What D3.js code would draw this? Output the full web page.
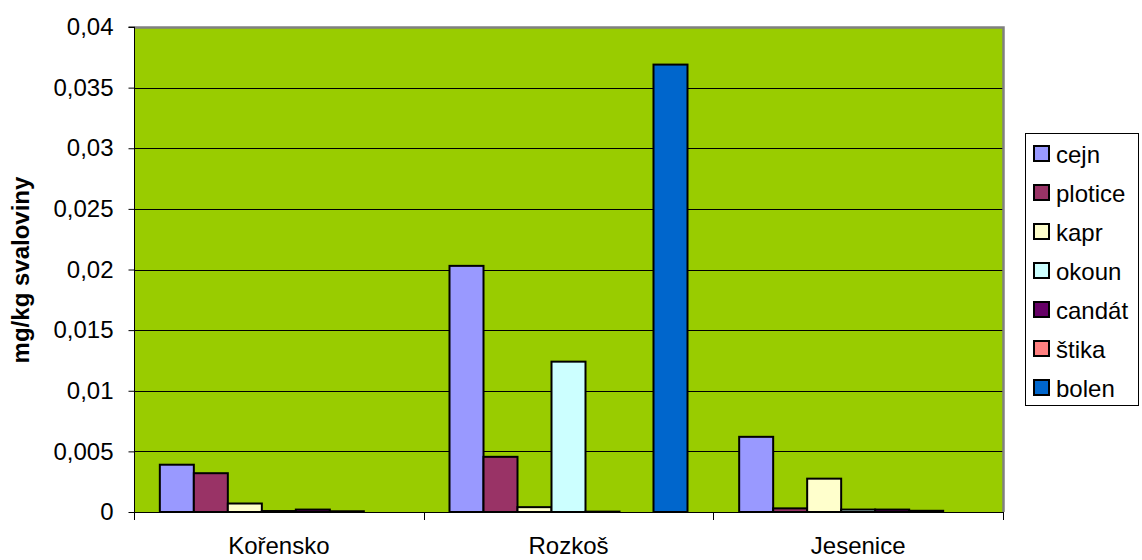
<!DOCTYPE html>
<html>
<head>
<meta charset="utf-8">
<script src="https://cdn.jsdelivr.net/npm/d3@7"></script>
<style>
  html, body { margin: 0; padding: 0; background: #fff; }
  svg { display: block; font-family: "Liberation Sans", Arial, sans-serif; }
</style>
</head>
<body>
<svg id="chart" width="1142" height="560"></svg>
<script>
// Localities (x categories)
const categories = ["Kořensko", "Rozkoš", "Jesenice"];

// Fish species (series)
const seriesNames = ["cejn", "plotice", "kapr", "okoun", "candát", "štika", "bolen"];
const seriesColors = ["#9999FF", "#993366", "#FFFFCC", "#CCFFFF", "#660066", "#FF8080", "#0066CC"];

// Concentrations in mg/kg of muscle, per locality
const cejn    = [0.0039, 0.0203, 0.0062];
const plotice = [0.0032, 0.00455, 0.0003];
const kapr    = [0.0007, 0.0004, 0.00275];
const okoun   = [0.00008, 0.0124, 0.0002];
const candat  = [0.0002, 0.00003, 0.0002];
const stika   = [0.00006, 0, 0.0001];
const bolen   = [0, 0.0369, 0];
const seriesValues = [cejn, plotice, kapr, okoun, candat, stika, bolen];

// Y axis ticks
const yTicks = [0, 0.005, 0.01, 0.015, 0.02, 0.025, 0.03, 0.035, 0.04];

const FONT = 24;
const svg = d3.select("#chart");
const plot = { left: 134, top: 27, right: 1003, bottom: 512 };

const y = d3.scaleLinear().domain([0, 0.04]).range([plot.bottom, plot.top]);
const x0 = d3.scaleBand().domain(categories).range([plot.left, plot.right]).paddingInner(0).paddingOuter(0);
const x1 = d3.scaleBand().domain(seriesNames).range([0, x0.bandwidth()]).paddingInner(0).paddingOuter(0.76);

// Plot background
svg.append("rect")
  .attr("x", plot.left).attr("y", plot.top)
  .attr("width", plot.right - plot.left).attr("height", plot.bottom - plot.top)
  .attr("fill", "#99CC00");

// Horizontal gridlines
svg.append("g")
  .selectAll("line")
  .data(yTicks.filter(t => t > 0 && t < 0.04))
  .join("line")
  .attr("x1", plot.left).attr("x2", plot.right)
  .attr("y1", d => Math.round(y(d)) + 0.5).attr("y2", d => Math.round(y(d)) + 0.5)
  .attr("stroke", "#000").attr("stroke-width", 1);

// Plot border (top and right, grey)
svg.append("path")
  .attr("d", `M${plot.left},${plot.top + 0.5}H${plot.right + 0.5}V${plot.bottom}`)
  .attr("fill", "none").attr("stroke", "#808080").attr("stroke-width", 2.5);

// Bars
const bars = [];
categories.forEach((c, ci) => {
  seriesNames.forEach((s, si) => {
    const v = seriesValues[si][ci];
    if (v > 0) bars.push({ c, s, v, color: seriesColors[si] });
  });
});
svg.append("g")
  .selectAll("rect")
  .data(bars)
  .join("rect")
  .attr("x", d => x0(d.c) + x1(d.s))
  .attr("y", d => y(d.v))
  .attr("width", x1.bandwidth())
  .attr("height", d => plot.bottom - y(d.v))
  .attr("fill", d => d.color)
  .attr("stroke", "#000")
  .attr("stroke-width", 2);

// Y axis
const yAxis = d3.axisLeft(y)
  .tickValues(yTicks)
  .tickSize(6)
  .tickPadding(15)
  .tickFormat(d => d === 0 ? "0" : String(+d.toFixed(3)).replace(".", ","));
const gy = svg.append("g").attr("transform", `translate(${plot.left + 0.5},0)`).call(yAxis);
gy.attr("font-size", FONT).attr("font-family", "'Liberation Sans', Arial, sans-serif");
gy.select(".domain").attr("stroke", "#000").attr("d", `M-6,${plot.top}H0V${plot.bottom}`);
gy.selectAll(".tick line").attr("stroke", "#000");
gy.selectAll(".tick text").attr("fill", "#000");

// X axis: baseline and category boundary ticks
svg.append("line")
  .attr("x1", plot.left).attr("x2", plot.right)
  .attr("y1", plot.bottom + 0.5).attr("y2", plot.bottom + 0.5)
  .attr("stroke", "#000");
const boundaries = categories.map(c => x0(c)).concat([x0(categories[categories.length - 1]) + x0.bandwidth()]);
svg.append("g").selectAll("line")
  .data(boundaries)
  .join("line")
  .attr("x1", d => Math.round(d) + 0.5).attr("x2", d => Math.round(d) + 0.5)
  .attr("y1", plot.bottom).attr("y2", plot.bottom + 8)
  .attr("stroke", "#000");
svg.append("g").selectAll("text")
  .data(categories)
  .join("text")
  .attr("x", d => x0(d) + x0.bandwidth() / 2)
  .attr("y", 554)
  .attr("text-anchor", "middle")
  .attr("font-size", FONT)
  .attr("fill", "#000")
  .text(d => d);

// Y axis title
svg.append("text")
  .attr("transform", `translate(29,270) rotate(-90)`)
  .attr("text-anchor", "middle")
  .attr("font-size", FONT)
  .attr("font-weight", "bold")
  .attr("fill", "#000")
  .text("mg/kg svaloviny");

// Legend
const legend = svg.append("g");
legend.append("rect")
  .attr("x", 1025.5).attr("y", 133.5)
  .attr("width", 113).attr("height", 272)
  .attr("fill", "#fff").attr("stroke", "#000").attr("stroke-width", 1);
const items = legend.selectAll("g.item")
  .data(seriesNames.map((s, i) => ({ s, color: seriesColors[i] })))
  .join("g")
  .attr("class", "item")
  .attr("transform", (d, i) => `translate(1034,${154 + i * 39})`);
items.append("rect")
  .attr("x", 0).attr("y", -8)
  .attr("width", 15).attr("height", 15)
  .attr("fill", d => d.color)
  .attr("stroke", "#000").attr("stroke-width", 2);
items.append("text")
  .attr("x", 22).attr("y", 0)
  .attr("dy", "0.36em")
  .attr("font-size", FONT)
  .attr("fill", "#000")
  .text(d => d.s);
</script>
</body>
</html>
